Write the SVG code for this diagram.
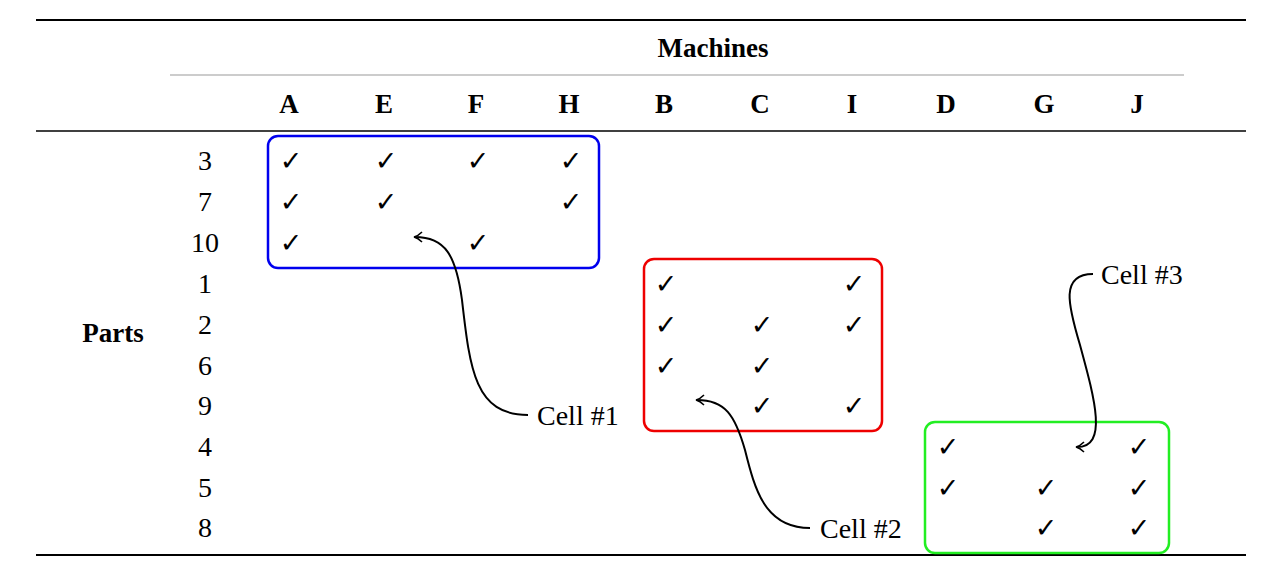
<svg xmlns="http://www.w3.org/2000/svg" width="1276" height="569" viewBox="0 0 1276 569">
<style>
text{font-family:"Liberation Serif","DejaVu Serif",serif;font-size:28px;fill:#000;text-anchor:middle}
.b{font-weight:bold;font-size:27px}
.c{font-family:"DejaVu Sans",sans-serif;font-size:27px}
.l{text-anchor:start}
.box{fill:none;stroke-width:2.5}
.arr{fill:none;stroke:#000;stroke-width:2;marker-end:url(#ah)}
</style>
<defs><marker id="ah" markerWidth="12" markerHeight="12" refX="9" refY="6" orient="auto" markerUnits="userSpaceOnUse"><path d="M2,1 Q6,5 10,6 Q6,7 2,11" fill="none" stroke="#000" stroke-width="1.6"/></marker></defs>
<rect width="1276" height="569" fill="#fff"/>
<g id="rules">
<line x1="36" y1="20" x2="1246" y2="20" stroke="#000" stroke-width="2.2"/>
<line x1="170" y1="75" x2="1184" y2="75" stroke="#999" stroke-width="1.2"/>
<line x1="36" y1="131" x2="1246" y2="131" stroke="#000" stroke-width="1.3"/>
<line x1="36" y1="555" x2="1246" y2="555" stroke="#000" stroke-width="2.2"/>
</g>
<g id="headers">
<text x="713" y="57" class="b">Machines</text>
<text x="289" y="113" class="b">A</text><text x="384" y="113" class="b">E</text><text x="476" y="113" class="b">F</text><text x="569" y="113" class="b">H</text><text x="664" y="113" class="b">B</text><text x="760" y="113" class="b">C</text><text x="852" y="113" class="b">I</text><text x="946" y="113" class="b">D</text><text x="1044" y="113" class="b">G</text><text x="1137" y="113" class="b">J</text>
<text x="113" y="342" class="b">Parts</text>
</g>
<g id="rows">
<text x="205" y="170">3</text><text x="205" y="211">7</text><text x="205" y="252">10</text><text x="205" y="293">1</text><text x="205" y="334">2</text><text x="205" y="375">6</text><text x="205" y="415">9</text><text x="205" y="456">4</text><text x="205" y="497">5</text><text x="205" y="537">8</text>
</g>
<g id="checks">
<text class="c" x="291" y="170">✓</text><text class="c" x="386" y="170">✓</text><text class="c" x="478" y="170">✓</text><text class="c" x="571" y="170">✓</text>
<text class="c" x="291" y="211">✓</text><text class="c" x="386" y="211">✓</text><text class="c" x="571" y="211">✓</text>
<text class="c" x="291" y="252">✓</text><text class="c" x="478" y="252">✓</text>
<text class="c" x="666" y="293">✓</text><text class="c" x="854" y="293">✓</text>
<text class="c" x="666" y="334">✓</text><text class="c" x="762" y="334">✓</text><text class="c" x="854" y="334">✓</text>
<text class="c" x="666" y="375">✓</text><text class="c" x="762" y="375">✓</text>
<text class="c" x="762" y="415">✓</text><text class="c" x="854" y="415">✓</text>
<text class="c" x="948" y="456">✓</text><text class="c" x="1139" y="456">✓</text>
<text class="c" x="948" y="497">✓</text><text class="c" x="1046" y="497">✓</text><text class="c" x="1139" y="497">✓</text>
<text class="c" x="1046" y="537">✓</text><text class="c" x="1139" y="537">✓</text>
</g>
<g id="cell1"><rect class="box" x="268" y="136" width="331" height="132" rx="10" stroke="#0000ee"/></g>
<g id="cell2"><rect class="box" x="644" y="259" width="238" height="172" rx="10" stroke="#ee0000"/></g>
<g id="cell3"><rect class="box" x="925" y="422" width="244" height="131" rx="10" stroke="#22ee22"/></g>
<g id="labels">
<text x="537" y="425" class="l">Cell #1</text>
<text x="820" y="538" class="l">Cell #2</text>
<text x="1101" y="284" class="l">Cell #3</text>
</g>
<g id="connectors">
<path class="arr" d="M528,415 C475,415 470,370 462,300 C456,255 445,237 415,237"/>
<path class="arr" d="M810,528 C765,528 755,490 745,450 C735,415 725,400 697,400"/>
<path class="arr" d="M1093,274 C1060,274 1068,305 1080,345 C1095,400 1108,447 1077,447"/>
</g>
</svg>
